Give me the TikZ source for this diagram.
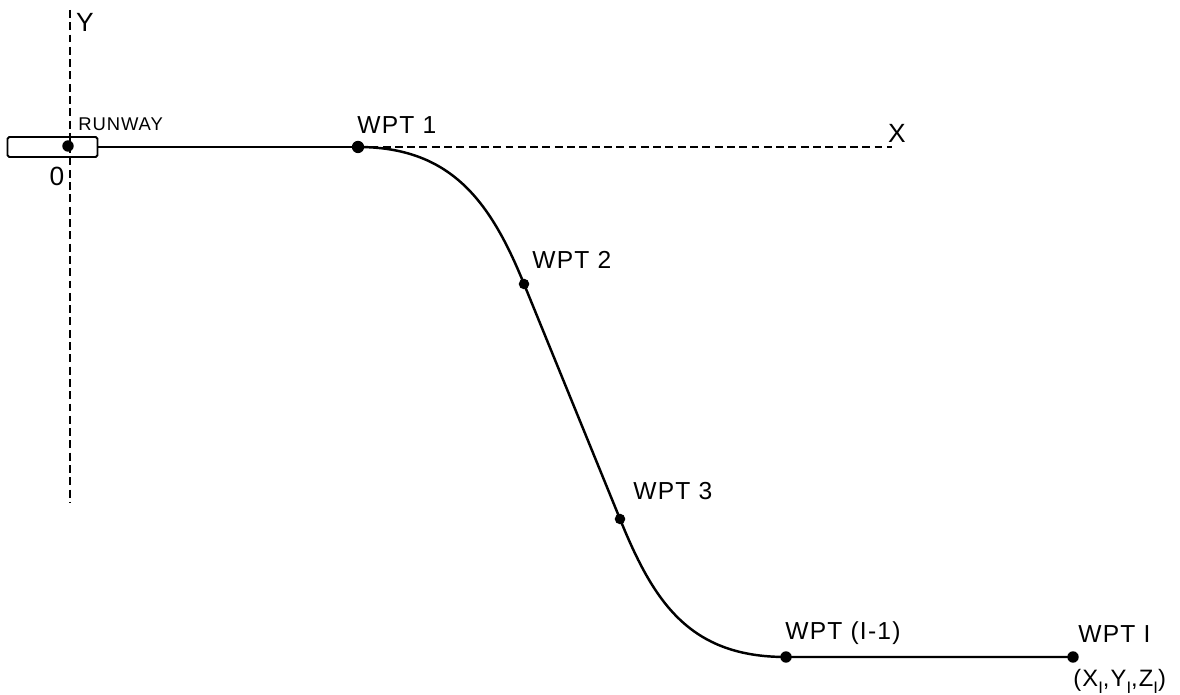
\documentclass[tikz,border=0pt]{standalone}
\usepackage{fontspec}
\setmainfont{Liberation Sans}[LetterSpace=5]
\newcommand{\subI}{\raisebox{-0.55ex}{\fontsize{9.5}{9.5}\selectfont I}}
\begin{document}
\begin{tikzpicture}[x=0.02cm,y=-0.02cm,
  path/.style={line width=1.4pt},
  axis/.style={line width=1.1pt, dash pattern=on 4.5pt off 2.5pt},
  dot/.style={circle, fill=black, inner sep=0pt, minimum size=#1},
  dot/.default=6.5pt,
  lbl/.style={font=\fontsize{14}{16}\selectfont, inner sep=0pt, anchor=west},
  ax/.style={font=\fontsize{15}{17}\selectfont, inner sep=0pt}]
\useasboundingbox (0,0) rectangle (1180,695);
% axes
\coordinate (ytop) at (70,10);
\coordinate (ybot) at (70,502);
\draw[axis] (ytop) -- (ybot);
\node[ax] (ylab) at (85,22) {Y};
\node[ax] (olab) at (57,176) {0};
% runway
\node[draw, line width=1.1pt, rounded corners=1pt, inner sep=0pt, minimum width=1.8cm, minimum height=0.4cm] (runway) at (52.5,147) {};
\node[dot=6.5pt] (o) at (68,146) {};
\node[font=\fontsize{10.5}{12}\selectfont, inner sep=0pt, anchor=west] (rwlab) at (78,124) {RUNWAY};
% waypoints
\node[dot=7pt] (w1) at (358,147) {};
\node[dot=6pt] (w2) at (524,284) {};
\node[dot=6pt] (w3) at (620,519) {};
\node[dot=6.5pt] (w4) at (786,657) {};
\node[dot=6.5pt] (w5) at (1073,657) {};
\coordinate (xend) at (892,147);
\draw[axis] (w1.center) -- (xend);
\node[ax] (xlab) at (897,133) {X};
% path
\draw[path] (runway.east) -- (w1.center);
\draw[path] (w1.center) .. controls (450,147) and (490,200) .. (w2.center) -- (w3.center)
  .. controls (654,603) and (690,657) .. (w4.center) -- (w5.center);
% labels
\node[lbl] (l1) at (357,125) {WPT 1};
\node[lbl] (l2) at (532,260) {WPT 2};
\node[lbl] (l3) at (633,491) {WPT 3};
\node[lbl] (l4) at (785,633) {WPT (I-1)};
\node[lbl] (l5) at (1078,634) {WPT I};
\node[font=\fontsize{13.5}{15}\selectfont, inner sep=0pt, anchor=west] (l6) at (1073,681) {(X\subI,Y\subI,Z\subI)};
\end{tikzpicture}
\end{document}
